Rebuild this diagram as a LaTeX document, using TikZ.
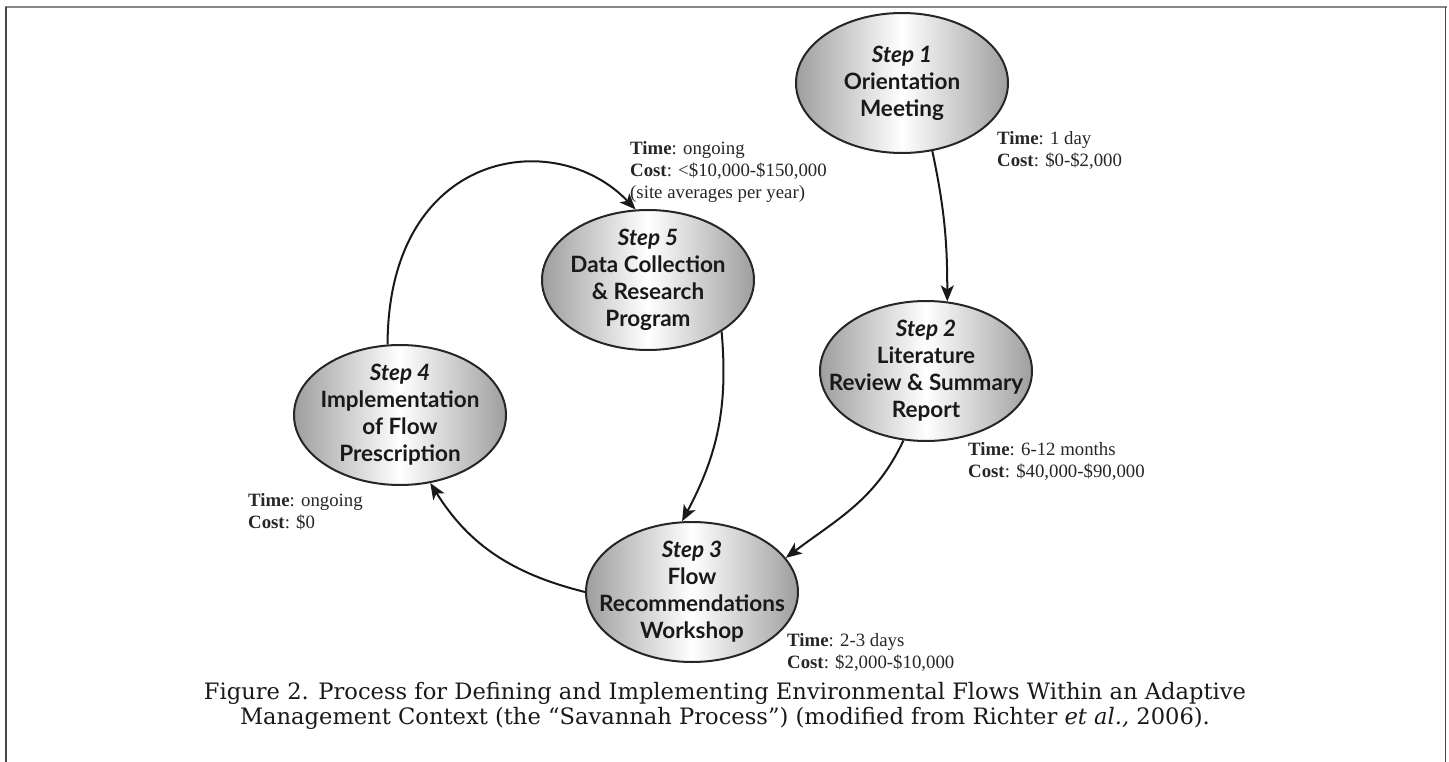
\documentclass[tikz,border=0pt]{standalone}
\usepackage{fontspec}
\setmainfont{Liberation Serif}
\newfontfamily\stepfont{Lato}
\newfontfamily\capfont{DejaVu Serif}
\usetikzlibrary{shapes.geometric,arrows.meta}
\tikzset{
  stepnode/.style={ellipse, draw=black!85, line width=2pt, minimum width=212pt,
    minimum height=140pt, inner sep=0pt, left color=black!38, right color=black!38,
    middle color=white},
  steptext/.style={align=center, text=black!90, inner sep=0pt,
    font=\stepfont\bfseries\fontsize{22.5}{27}\selectfont},
  info/.style={anchor=west, align=left, inner sep=0pt, text=black!85,
    font=\fontsize{18.8}{22}\selectfont},
  conn/.style={line width=2pt, draw=black!90,
    -{Stealth[length=16pt,width=13pt,inset=4pt]}},
  framegray/.style={line width=2pt, draw=black!47},
  framedark/.style={line width=1.6pt, draw=black!72},
}
\begin{document}
\begin{tikzpicture}[x=1pt,y=1pt]
\useasboundingbox (0,0) rectangle (1449,-762);
% frame
\coordinate (ftl) at (5,-7.5);
\coordinate (ftr) at (1447,-7.5);
\coordinate (flt) at (6,-7);
\coordinate (flb) at (6,-762);
\coordinate (frt) at (1445.5,-7);
\coordinate (frb) at (1445.5,-762);
\draw[framegray] (ftl) -- (ftr);
\draw[framedark] (flt) -- (flb);
\draw[framedark] (frt) -- (frb);
% steps
\node[stepnode, label={[steptext]center:{\textit{Step 1}\\Orientation\\Meeting}}] (s1) at (902,-83) {};
\node[stepnode, label={[steptext]center:{\textit{Step 2}\\Literature\\Review \& Summary\\Report}}] (s2) at (926,-371) {};
\node[stepnode, label={[steptext]center:{\textit{Step 3}\\Flow\\Recommendations\\Workshop}}] (s3) at (692,-592) {};
\node[stepnode, label={[steptext]center:{\textit{Step 4}\\Implementation\\of Flow\\Prescription}}] (s4) at (400,-415) {};
\node[stepnode, label={[steptext]center:{\textit{Step 5}\\Data Collection\\\& Research\\Program}}] (s5) at (648,-280) {};
% info labels
\node[info] (i1) at (997,-150) {\textbf{Time}: 1 day\\\textbf{Cost}: \$0-\$2,000};
\node[info] (i2) at (968,-461) {\textbf{Time}: 6-12 months\\\textbf{Cost}: \$40,000-\$90,000};
\node[info] (i3) at (787,-652) {\textbf{Time}: 2-3 days\\\textbf{Cost}: \$2,000-\$10,000};
\node[info] (i4) at (248,-512) {\textbf{Time}: ongoing\\\textbf{Cost}: \$0};
\node[info] (i5) at (630,-172) {\textbf{Time}: ongoing\\\textbf{Cost}: <\$10,000-\$150,000\\(site averages per year)};
% connectors
\draw[conn] (s1.-66) to[out=-78,in=90] (s2.73);
\draw[conn] (s2.-108) to[out=-115,in=37] (s3.20);
\draw[conn] (s5.-35) to[out=-85,in=62] (s3.98);
\draw[conn] (s3.180) to[out=166,in=-58] (s4.-66);
\draw[conn] (s4.100) .. controls (388,-150) and (555,-125) .. (s5.100);
% caption
\node[font=\capfont\fontsize{22.6}{25.5}\selectfont, align=center, text=black!90] (cap) at (725,-706)
  {Figure 2. Process for Defining and Implementing Environmental Flows Within an Adaptive\\
   Management Context (the “Savannah Process”) (modified from Richter \textit{et al.,} 2006).};
\end{tikzpicture}
\end{document}
